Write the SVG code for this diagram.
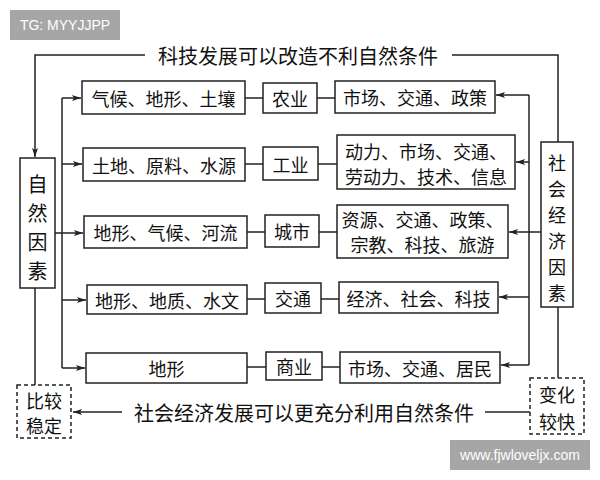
<svg xmlns="http://www.w3.org/2000/svg" width="600" height="480" viewBox="0 0 600 480">
<defs>
<marker id="ah" markerWidth="10" markerHeight="8" refX="9" refY="4" orient="auto" markerUnits="userSpaceOnUse">
<path d="M0,1 L9,4 L0,7 L2,4 Z" fill="#222"/>
</marker>
<style>
.b{fill:#fff;stroke:#222;stroke-width:1.5}
.d{fill:#fff;stroke:#222;stroke-width:1.5;stroke-dasharray:4,3}
.t{font-family:"Noto Sans CJK SC","Noto Sans",sans-serif;font-size:18px;fill:#111;text-anchor:middle;dominant-baseline:central}
.L{font-size:20px}
.v{font-size:18px}
.c{fill:none;stroke:#222;stroke-width:1.5}
.a{fill:none;stroke:#222;stroke-width:1.5;marker-end:url(#ah)}
.w{font-family:"Liberation Sans",Arial,sans-serif;font-size:14px;fill:#fff;text-anchor:middle;dominant-baseline:central}
</style>
</defs>
<rect width="600" height="480" fill="#fff"/>
<g id="wm1"><rect x="10" y="10" width="110" height="30" fill="#a6a6a6"/><text class="w" x="65" y="25">TG: MYYJJPP</text></g>
<g id="wm2"><rect x="450" y="440" width="140" height="30" fill="#a6a6a6"/><text class="w" x="520" y="455">www.fjwloveljx.com</text></g>

<g id="connectors">
<polyline class="a" points="145,55 35,55 35,157"/>
<polyline class="c" points="452,55 558,55 558,142"/>
<line class="c" x1="35" y1="288" x2="35" y2="385"/>
<line class="c" x1="62" y1="98" x2="62" y2="368"/>
<line class="a" x1="62" y1="98" x2="81" y2="98"/>
<line class="a" x1="62" y1="164" x2="82" y2="164"/>
<line class="a" x1="55" y1="233" x2="83" y2="233"/>
<line class="a" x1="62" y1="300" x2="86" y2="300"/>
<line class="a" x1="62" y1="368" x2="85" y2="368"/>
<line class="c" x1="245" y1="98" x2="263" y2="98"/>
<line class="c" x1="317" y1="98" x2="335" y2="98"/>
<line class="c" x1="245" y1="164" x2="263" y2="164"/>
<line class="c" x1="318" y1="164" x2="337" y2="164"/>
<line class="c" x1="247" y1="232" x2="265" y2="232"/>
<line class="c" x1="319" y1="232" x2="337" y2="232"/>
<line class="c" x1="247" y1="299" x2="265" y2="299"/>
<line class="c" x1="321" y1="299" x2="339" y2="299"/>
<line class="c" x1="247" y1="367" x2="266" y2="367"/>
<line class="c" x1="322" y1="367" x2="340" y2="367"/>
<line class="c" x1="529" y1="95" x2="529" y2="365"/>
<line class="a" x1="529" y1="95" x2="496" y2="95"/>
<line class="a" x1="529" y1="162" x2="516" y2="162"/>
<line class="a" x1="541" y1="232" x2="509" y2="232"/>
<line class="a" x1="529" y1="297" x2="499" y2="297"/>
<line class="a" x1="529" y1="365" x2="501" y2="365"/>
<line class="c" x1="558" y1="307" x2="558" y2="378"/>
<line class="c" x1="530" y1="412" x2="485" y2="412"/>
<line class="a" x1="122" y1="412" x2="73" y2="412"/>
</g>

<g id="label-top"><text class="t L" x="298" y="55">科技发展可以改造不利自然条件</text></g>
<g id="label-bottom"><text class="t L" x="304" y="412">社会经济发展可以更充分利用自然条件</text></g>

<g id="natural"><rect class="b" x="20" y="158" width="35" height="130"/>
<text class="t L" x="37.5" y="183">自</text><text class="t L" x="37.5" y="212">然</text><text class="t L" x="37.5" y="241">因</text><text class="t L" x="37.5" y="270">素</text></g>
<g id="social"><rect class="b" x="541" y="142" width="32" height="165"/>
<text class="t v" x="557" y="162">社</text><text class="t v" x="557" y="188">会</text><text class="t v" x="557" y="214">经</text><text class="t v" x="557" y="240">济</text><text class="t v" x="557" y="266">因</text><text class="t v" x="557" y="292">素</text></g>
<g id="stable"><rect class="d" x="17" y="385" width="54" height="53"/>
<text class="t" x="44" y="400">比较</text><text class="t" x="44" y="425">稳定</text></g>
<g id="fast"><rect class="d" x="530" y="378" width="54" height="56"/>
<text class="t" x="557" y="394">变化</text><text class="t" x="557" y="421">较快</text></g>

<g id="n1a"><rect class="b" x="82" y="81" width="163" height="33"/><text class="t" x="163.5" y="97.5">气候、地形、土壤</text></g>
<g id="n1b"><rect class="b" x="263" y="83" width="54" height="30"/><text class="t" x="290" y="98">农业</text></g>
<g id="n1c"><rect class="b" x="335" y="81" width="160" height="32"/><text class="t" x="415" y="97">市场、交通、政策</text></g>

<g id="n2a"><rect class="b" x="83" y="148" width="162" height="33"/><text class="t" x="164" y="164.5">土地、原料、水源</text></g>
<g id="n2b"><rect class="b" x="263" y="147" width="55" height="33"/><text class="t" x="290.5" y="163.5">工业</text></g>
<g id="n2c"><rect class="b" x="337" y="135" width="178" height="54"/><text class="t" x="426" y="151">动力、市场、交通、</text><text class="t" x="426" y="176">劳动力、技术、信息</text></g>

<g id="n3a"><rect class="b" x="84" y="216" width="163" height="32"/><text class="t" x="165.5" y="232">地形、气候、河流</text></g>
<g id="n3b"><rect class="b" x="265" y="215" width="54" height="32"/><text class="t" x="292" y="231">城市</text></g>
<g id="n3c"><rect class="b" x="337" y="205" width="171" height="53"/><text class="t" x="422.5" y="219">资源、交通、政策、</text><text class="t" x="422.5" y="244">宗教、科技、旅游</text></g>

<g id="n4a"><rect class="b" x="87" y="285" width="160" height="29"/><text class="t" x="167" y="299.5">地形、地质、水文</text></g>
<g id="n4b"><rect class="b" x="265" y="283" width="56" height="30"/><text class="t" x="293" y="298">交通</text></g>
<g id="n4c"><rect class="b" x="339" y="282" width="159" height="31"/><text class="t" x="418.5" y="297.5">经济、社会、科技</text></g>

<g id="n5a"><rect class="b" x="86" y="353" width="161" height="30"/><text class="t" x="166.5" y="368">地形</text></g>
<g id="n5b"><rect class="b" x="266" y="352" width="56" height="28"/><text class="t" x="294" y="366">商业</text></g>
<g id="n5c"><rect class="b" x="340" y="352" width="160" height="31"/><text class="t" x="420" y="367.5">市场、交通、居民</text></g>
</svg>
